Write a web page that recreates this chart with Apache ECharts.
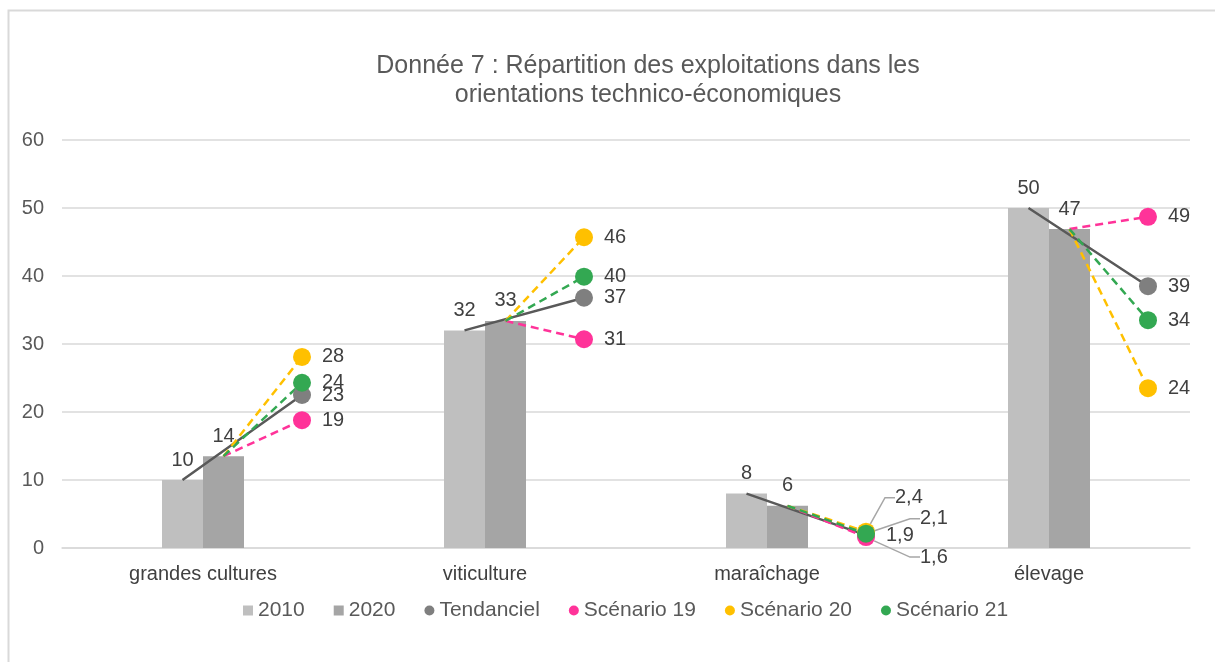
<!DOCTYPE html>
<html>
<head>
<meta charset="utf-8">
<script src="https://cdn.jsdelivr.net/npm/echarts@6/dist/echarts.min.js"></script>
<style>
  html, body { margin: 0; padding: 0; background: #fff; }
  #chart { width: 1215px; height: 662px; }
</style>
</head>
<body>
<div id="chart"></div>
<script>
// données
const categories = ['grandes cultures', 'viticulture', 'maraîchage', 'élevage'];
const v2010 = [10, 32, 8, 50];
const v2020 = [13.5, 33.4, 6.2, 46.9];
const tendanciel = [22.5, 36.8, 1.9, 38.5];
const scenario19 = [18.8, 30.7, 1.6, 48.7];
const scenario20 = [28.1, 45.7, 2.4, 23.5];
const scenario21 = [24.3, 39.9, 2.1, 33.5];
const yTicks = [0, 10, 20, 30, 40, 50, 60];

const FONT = '"Liberation Sans", Arial, sans-serif';
const TEXT = '#404040';
const FS = 20;

// positions (en unités de catégorie) sur l'axe x caché
const GRID_W = 1215 - 62 - 25;
const CAT_W = GRID_W / categories.length;
const BAR_W = 41;
const HALF = (BAR_W / 2) / CAT_W;   // centre d'une barre par rapport au centre de catégorie
const END = 99 / CAT_W;             // point final des projections

function fmt(v) {
  return v >= 5 ? String(Math.round(v)) : v.toFixed(1).replace('.', ',');
}

// décalage des étiquettes pour maraîchage (points superposés)
const MARA = 2;
const maraShift = {
  'Tendanciel': null,
  'Scénario 19': { dx: 34, dy: 20 },
  'Scénario 20': { dx: 9, dy: -34 },
  'Scénario 21': { dx: 34, dy: -15 }
};

function segments(name, startVals, startOff, endVals) {
  const out = [];
  categories.forEach((c, i) => {
    out.push({ value: [i + 0.5 + startOff, startVals[i]], symbol: 'none', label: { show: false } });
    const end = { value: [i + 0.5 + END, endVals[i]] };
    if (i === MARA && maraShift[name]) {
      end.labelLine = { show: true, length2: 10, lineStyle: { color: '#a6a6a6', width: 1.5 } };
    }
    out.push(end);
    out.push({ value: [i + 0.5, '-'], symbol: 'none', label: { show: false } });
  });
  return out;
}

function lineSeries(name, color, markerColor, dashed, startVals, startOff, endVals) {
  return {
    name: name,
    type: 'line',
    xAxisIndex: 1,
    data: segments(name, startVals, startOff, endVals),
    connectNulls: false,
    symbol: 'circle',
    symbolSize: 18,
    animation: false,
    lineStyle: { color: color, width: 2.5, type: dashed ? [8, 5] : 'solid' },
    itemStyle: { color: markerColor },
    label: {
      show: true,
      position: 'right',
      distance: 11,
      color: TEXT,
      fontSize: FS,
      fontFamily: FONT,
      formatter: p => fmt(p.value[1])
    },
    labelLayout: p => {
      const s = maraShift[name];
      if (s && p.dataIndex === MARA * 3 + 1) return { dx: s.dx, dy: s.dy };
      return {};
    },
    emphasis: { disabled: true }
  };
}

const chart = echarts.init(document.getElementById('chart'), null, { renderer: 'canvas' });

chart.setOption({
  animation: false,
  backgroundColor: '#fff',
  textStyle: { fontFamily: FONT },
  graphic: [{
    type: 'rect',
    left: 6, top: 8,
    shape: { width: 1300, height: 720 },
    style: { fill: 'none', stroke: '#d9d9d9', lineWidth: 2 },
    silent: true,
    z: -10
  }],
  title: {
    text: 'Donnée 7 : Répartition des exploitations dans les\norientations technico-économiques',
    left: 643,
    top: 47,
    textAlign: 'center',
    textStyle: { fontSize: 25, fontWeight: 'normal', color: '#595959', fontFamily: FONT, lineHeight: 29 }
  },
  legend: {
    left: 238,
    top: 595,
    itemWidth: 10,
    itemHeight: 10,
    itemGap: 29,
    textStyle: { fontSize: 21, color: '#595959', fontFamily: FONT },
    data: [
      { name: '2010', icon: 'rect' },
      { name: '2020', icon: 'rect' },
      { name: 'Tendanciel', icon: 'circle' },
      { name: 'Scénario 19', icon: 'circle' },
      { name: 'Scénario 20', icon: 'circle' },
      { name: 'Scénario 21', icon: 'circle' }
    ]
  },
  grid: { left: 62, right: 25, top: 140, bottom: 114, containLabel: false },
  xAxis: [{
    type: 'category',
    data: categories,
    boundaryGap: true,
    axisLine: { lineStyle: { color: '#d9d9d9', width: 1.5 } },
    axisTick: { show: false },
    axisLabel: { color: TEXT, fontSize: FS, fontFamily: FONT, margin: 16 }
  }, {
    type: 'value',
    min: 0,
    max: categories.length,
    show: false
  }],
  yAxis: {
    type: 'value',
    min: yTicks[0],
    max: yTicks[yTicks.length - 1],
    interval: 10,
    axisLine: { show: false },
    axisTick: { show: false },
    axisLabel: { color: '#595959', fontSize: FS, fontFamily: FONT, margin: 18 },
    splitLine: { lineStyle: { color: '#d9d9d9', width: 1.5 } }
  },
  series: [
    {
      name: '2010', type: 'bar', data: v2010, barWidth: BAR_W, barGap: '0%',
      itemStyle: { color: '#bfbfbf' },
      label: { show: true, position: 'top', distance: 10, color: TEXT, fontSize: FS, fontFamily: FONT, formatter: p => fmt(p.value) },
      emphasis: { disabled: true }
    },
    {
      name: '2020', type: 'bar', data: v2020, barWidth: BAR_W, barGap: '0%',
      itemStyle: { color: '#a5a5a5' },
      label: { show: true, position: 'top', distance: 10, color: TEXT, fontSize: FS, fontFamily: FONT, formatter: p => fmt(p.value) },
      emphasis: { disabled: true }
    },
    lineSeries('Tendanciel', '#595959', '#7f7f7f', false, v2010, -HALF, tendanciel),
    lineSeries('Scénario 19', '#ff3399', '#ff3399', true, v2020, HALF, scenario19),
    lineSeries('Scénario 20', '#ffc000', '#ffc000', true, v2020, HALF, scenario20),
    lineSeries('Scénario 21', '#33a852', '#33a852', true, v2020, HALF, scenario21)
  ]
});
</script>
</body>
</html>
